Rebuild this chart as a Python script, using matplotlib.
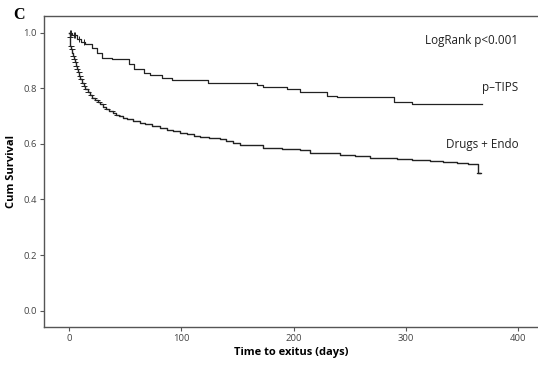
import numpy as np
import matplotlib
matplotlib.use("Agg")
import matplotlib.pyplot as plt

# p-TIPS survival steps (days, cum survival)
tips_t = [0, 3, 7.1, 11, 14.5, 20.5, 24.9, 29.4, 38.3, 48.7, 53.2, 57.6, 66.5, 72.4, 82.8, 91.7,
          124, 167, 173, 194, 206, 230, 239, 289, 305, 368]
tips_s = [1.0, 0.99, 0.976, 0.967, 0.958, 0.946, 0.928, 0.910, 0.906, 0.904, 0.886, 0.868, 0.856, 0.847,
          0.838, 0.830, 0.818, 0.812, 0.803, 0.796, 0.788, 0.773, 0.767, 0.752, 0.743, 0.743]

# Drugs + Endo survival steps
endo_t = [0, 0.5, 1.2, 2.0, 2.7, 3.5, 4.2, 5.0, 6.0, 7.1, 8.0, 9.0, 10.1, 11.5, 13.0, 14.5, 16.5, 18.5,
          20.5, 23, 25.5, 27.9, 30.5, 33, 35.4, 39, 42, 44.3, 48, 52, 57, 63.2, 68, 74, 81, 87, 93, 98.8,
          105, 111, 116.7, 125, 134.5, 140, 146, 152.3, 167.4, 172.8, 190, 205.7, 214.6, 234.2, 241.3,
          255, 268, 292, 305, 321.5, 333, 345.5, 355, 363.3, 364, 366]
endo_s = [1.0, 0.985, 0.952, 0.940, 0.928, 0.915, 0.904, 0.893, 0.880, 0.868, 0.857, 0.845, 0.832, 0.820,
          0.808, 0.796, 0.785, 0.775, 0.766, 0.757, 0.749, 0.742, 0.733, 0.725, 0.718, 0.711, 0.705, 0.700,
          0.694, 0.688, 0.682, 0.675, 0.670, 0.664, 0.657, 0.651, 0.645, 0.639, 0.634, 0.629, 0.625, 0.621,
          0.617, 0.610, 0.603, 0.596, 0.596, 0.585, 0.582, 0.578, 0.568, 0.567, 0.560, 0.555, 0.549, 0.545,
          0.542, 0.538, 0.535, 0.532, 0.529, 0.526, 0.494, 0.494]

# censored observations (tick marks)
tips_cens_t = [1, 2, 4, 5, 9, 13]
endo_cens_t = [0.5, 1.5, 2.5, 3.5, 4.5, 5.5, 6.5, 7.5, 8.5, 9.5, 10.5, 12, 13.5, 15, 17, 19.5, 22,
               24.5, 27, 30, 34, 38, 43]

x_ticks = [0, 100, 200, 300, 400]
y_ticks = [0.0, 0.2, 0.4, 0.6, 0.8, 1.0]

plt.rcParams['font.family'] = ['Open Sans', 'DejaVu Sans']

fig = plt.figure(figsize=(5.38, 3.67), dpi=100)
ax = fig.add_axes([0.0818, 0.109, 0.9182, 0.8474])

ax.step(tips_t, tips_s, where='post', color='#222222', lw=0.9)
ax.step(endo_t, endo_s, where='post', color='#222222', lw=1.0)


def surv_at(ts, ss, x):
    i = np.searchsorted(ts, x, side='right') - 1
    return ss[i]


ax.plot(tips_cens_t, [surv_at(tips_t, tips_s, c) for c in tips_cens_t], ls='none',
        marker='|', ms=4, mew=0.7, color='#222222')
ax.plot(endo_cens_t, [surv_at(endo_t, endo_s, c) for c in endo_cens_t], ls='none',
        marker='_', ms=4, mew=0.7, color='#222222')
ax.plot([363.3, 367], [0.494, 0.494], color='#222222', lw=0.9)

ax.set_xlim(-22.3, 417.6)
ax.set_ylim(-0.059, 1.060)
ax.set_xticks(x_ticks)
ax.set_yticks(y_ticks)
ax.set_yticklabels(['%.1f' % v for v in y_ticks])

for side in ['top', 'left', 'bottom']:
    ax.spines[side].set_color('#555555')
    ax.spines[side].set_linewidth(1.0)
ax.spines['right'].set_visible(False)
ax.tick_params(direction='out', length=3, width=0.8, color='#555555',
               labelsize=6.8, labelcolor='#444444', pad=2)

ax.set_xlabel('Time to exitus (days)', fontsize=8, fontweight='bold', labelpad=3)
ax.set_ylabel('Cum Survival', fontsize=8, fontweight='bold', labelpad=5)

ax.text(400, 0.971, 'LogRank p<0.001', ha='right', va='center', fontsize=8.4, color='#222222')
ax.text(400, 0.803, 'p\u2013TIPS', ha='right', va='center', fontsize=8.4, color='#222222')
ax.text(400, 0.596, 'Drugs + Endo', ha='right', va='center', fontsize=8.4, color='#222222')

fig.text(0.024, 0.96, 'C', ha='left', va='center', fontsize=11.5, fontweight='bold',
         family='Liberation Serif')

fig.savefig('out.png', dpi=100)
